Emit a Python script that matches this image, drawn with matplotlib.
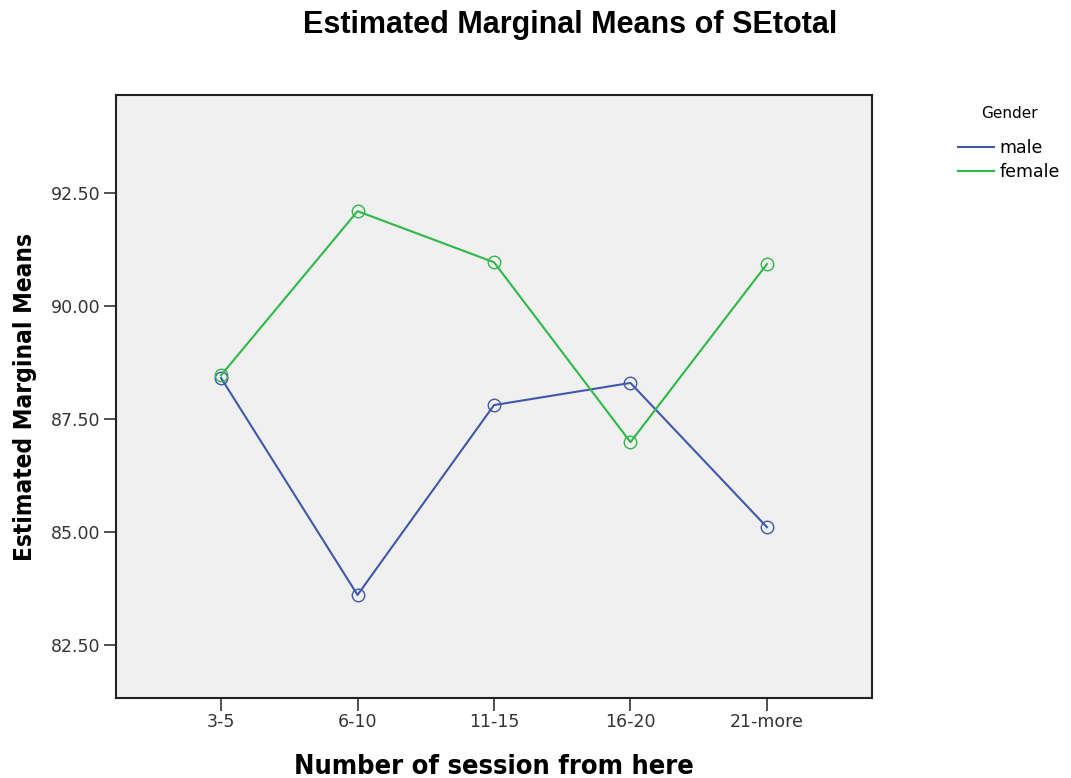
import numpy as np
import matplotlib.pyplot as plt

sessions = ["3-5", "6-10", "11-15", "16-20", "21-more"]
male = [88.41, 83.61, 87.81, 88.30, 85.11]
female = [88.47, 92.10, 90.97, 86.99, 90.93]
yticks = [82.5, 85.0, 87.5, 90.0, 92.5]

fig = plt.figure(figsize=(10.71, 7.78), dpi=100)
ax = fig.add_axes([0.1083, 0.1028, 0.7059, 0.7751])
ax.set_facecolor("#f0f0f0")

x = np.arange(len(sessions))
ax.plot(x, male, color="#3e58ac", lw=1.5, marker="o", ms=9, mfc="none", mew=1.0, label="male")
ax.plot(x, female, color="#2eb848", lw=1.5, marker="o", ms=9, mfc="none", mew=1.0, label="female")

ax.set_xlim(-0.77, 4.77)
ax.set_ylim(81.33, 94.67)
ax.set_xticks(x)
ax.set_xticklabels(sessions, fontsize=12.5, family="DejaVu Sans")
ax.set_yticks(yticks)
ax.set_yticklabels(["%.2f" % v for v in yticks], fontsize=12.5, family="DejaVu Sans")
ax.tick_params(direction="out", length=9, width=1.2, colors="#333333", pad=2)
for s in ax.spines.values():
    s.set_linewidth(1.5)
    s.set_color("#222222")

ax.set_xlabel("Number of session from here", fontsize=19.5, fontweight="bold",
              family="DejaVu Sans", stretch="condensed", labelpad=16)
ax.set_ylabel("Estimated Marginal Means", fontsize=17.5, fontweight="bold",
              family="DejaVu Sans", stretch="condensed", labelpad=10)
fig.text(0.532, 0.968, "Estimated Marginal Means of SEtotal", ha="center", va="center",
         fontsize=22, fontweight="bold", family="Liberation Sans")

leg = fig.legend(loc="upper left", bbox_to_anchor=(958 / 1071, 1 - 106 / 778), frameon=False,
                 title="Gender", title_fontsize=11, borderpad=0, borderaxespad=0,
                 handlelength=2.1, handletextpad=0.3, labelspacing=0.35,
                 prop={"family": "DejaVu Sans", "size": 12.5})
leg._legend_box.sep = 13
for h in leg.legend_handles:
    h.set_marker("")
    h.set_linewidth(1.5)

fig.savefig("out.png", dpi=100)
